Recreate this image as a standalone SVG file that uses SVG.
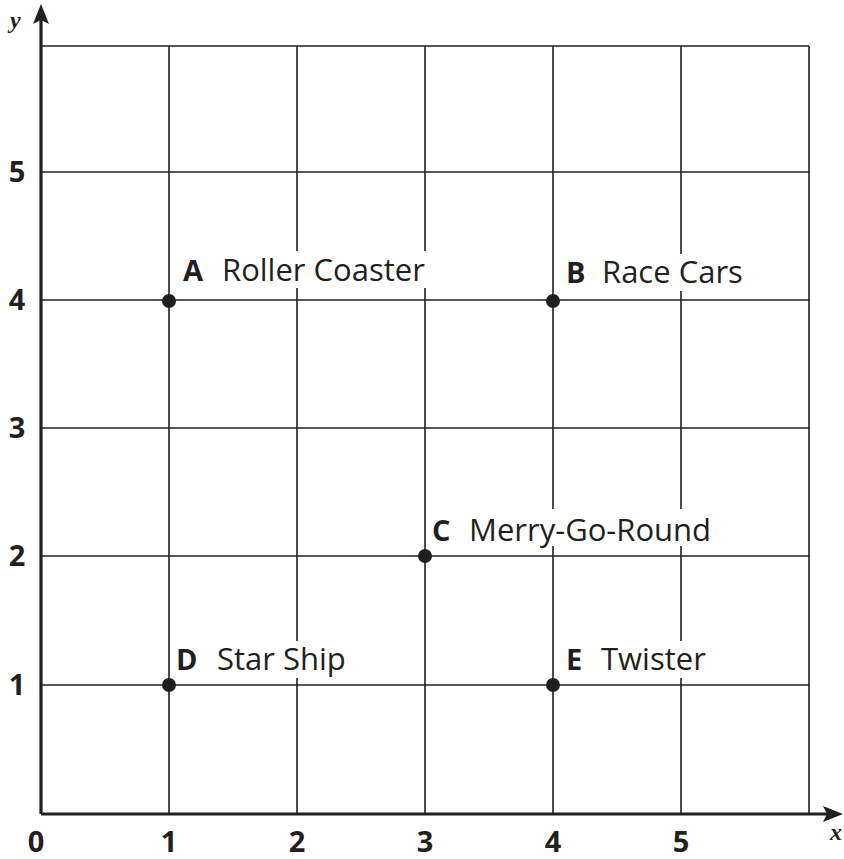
<svg xmlns="http://www.w3.org/2000/svg" width="844" height="859" viewBox="0 0 844 859">
<style>
.grid{stroke:#231f20;stroke-width:1.6;fill:none}
.axis{stroke:#231f20;stroke-width:3.2;fill:none}
.num{font-family:"Open Sans","Noto Sans",sans-serif;font-weight:bold;font-size:29px;fill:#231f20;text-anchor:middle}
.lbl{font-family:"Open Sans","Noto Sans",sans-serif;font-size:31px;fill:#231f20}
.let{font-family:"Open Sans","Noto Sans",sans-serif;font-weight:bold;font-size:29px;fill:#231f20}
.var{font-family:"Liberation Serif",serif;font-style:italic;font-weight:bold;font-size:24px;fill:#231f20}
.dot{fill:#231f20}
.bg{fill:#fff}
</style>
<rect width="844" height="859" fill="#fff"/>
<g id="grid">
<path class="grid" d="M169,46V814M297,46V814M425,46V814M553,46V814M681,46V814M809,46V814"/>
<path class="grid" d="M41,46H809M41,172H809M41,300H809M41,428H809M41,556H809M41,685H809"/>
</g>
<g id="axes">
<line class="axis" x1="41" y1="814" x2="41" y2="14"/>
<path d="M41,4 L49,24 L41,20 L33,24 Z" fill="#231f20"/>
<line class="axis" x1="41" y1="814" x2="832" y2="814"/>
<path d="M843,814 L823,822 L827,814 L823,806 Z" fill="#231f20"/>
<text class="var" x="10" y="28">y</text>
<text class="var" x="830" y="840">x</text>
</g>
<g id="ticks">
<text class="num" x="17" y="182">5</text>
<text class="num" x="17" y="310">4</text>
<text class="num" x="17" y="438">3</text>
<text class="num" x="17" y="566">2</text>
<text class="num" x="17" y="695">1</text>
<text class="num" x="36" y="852">0</text>
<text class="num" x="169" y="852">1</text>
<text class="num" x="297" y="852">2</text>
<text class="num" x="425" y="852">3</text>
<text class="num" x="553" y="852">4</text>
<text class="num" x="681" y="852">5</text>
</g>
<g id="A">
<rect class="bg" x="180" y="251" width="252" height="37"/>
<circle class="dot" cx="169" cy="301" r="7"/>
<text class="let" x="183" y="281">A</text>
<text class="lbl" x="222" y="281">Roller Coaster</text>
</g>
<g id="B">
<rect class="bg" x="563" y="254" width="185" height="37"/>
<circle class="dot" cx="553" cy="301" r="7"/>
<text class="let" x="566" y="283">B</text>
<text class="lbl" x="602" y="283">Race Cars</text>
</g>
<g id="C">
<rect class="bg" x="430" y="509" width="292" height="37"/>
<circle class="dot" cx="425" cy="556" r="7"/>
<text class="let" x="432" y="541">C</text>
<text class="lbl" x="469" y="541">Merry-Go-Round</text>
</g>
<g id="D">
<rect class="bg" x="174" y="641" width="178" height="37"/>
<circle class="dot" cx="169" cy="685" r="7"/>
<text class="let" x="176" y="670">D</text>
<text class="lbl" x="217" y="670">Star Ship</text>
</g>
<g id="E">
<rect class="bg" x="563" y="641" width="146" height="37"/>
<circle class="dot" cx="553" cy="685" r="7"/>
<text class="let" x="566" y="670">E</text>
<text class="lbl" x="601" y="670">Twister</text>
</g>
</svg>
